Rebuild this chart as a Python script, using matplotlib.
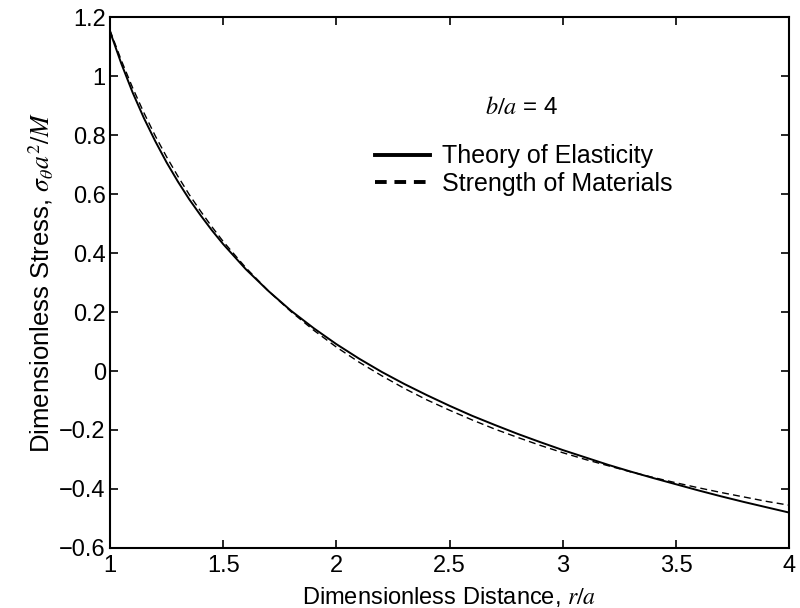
import numpy as np
import matplotlib
matplotlib.use('Agg')
import matplotlib.pyplot as plt
from matplotlib.lines import Line2D

plt.rcParams['font.family'] = ['Liberation Sans', 'DejaVu Sans']
plt.rcParams['mathtext.fontset'] = 'stix'

# r/a values
r_vals = [1.0, 1.05, 1.1, 1.15, 1.2, 1.25, 1.3, 1.35, 1.4, 1.45, 1.5, 1.6, 1.7,
          1.8, 1.9, 2.0, 2.1, 2.2, 2.3, 2.4, 2.5, 2.6, 2.7, 2.8, 2.9, 3.0,
          3.1, 3.2, 3.3, 3.4, 3.5, 3.6, 3.7, 3.8, 3.9, 4.0]
# theory of elasticity (solid)
elasticity = [1.151, 1.042, 0.944, 0.857, 0.779, 0.707, 0.642, 0.582, 0.528,
              0.477, 0.430, 0.345, 0.271, 0.204, 0.145, 0.091, 0.042, -0.003,
              -0.044, -0.082, -0.118, -0.152, -0.183, -0.213, -0.241, -0.268,
              -0.293, -0.318, -0.341, -0.363, -0.384, -0.405, -0.425, -0.444,
              -0.462, -0.480]
# strength of materials (dashed)
strength = [1.155, 1.053, 0.960, 0.875, 0.797, 0.726, 0.660, 0.598, 0.542,
            0.489, 0.439, 0.350, 0.271, 0.201, 0.138, 0.081, 0.030, -0.016,
            -0.059, -0.098, -0.133, -0.166, -0.197, -0.225, -0.252, -0.277,
            -0.300, -0.321, -0.342, -0.361, -0.379, -0.396, -0.412, -0.427,
            -0.442, -0.455]

x_ticks = [1, 1.5, 2, 2.5, 3, 3.5, 4]
x_ticklabels = ['1', '1.5', '2', '2.5', '3', '3.5', '4']
y_ticks = [-0.6, -0.4, -0.2, 0, 0.2, 0.4, 0.6, 0.8, 1, 1.2]
y_ticklabels = ['\u22120.6', '\u22120.4', '\u22120.2', '0', '0.2', '0.4', '0.6', '0.8', '1', '1.2']

fig = plt.figure(figsize=(8, 6.08), dpi=100)
ax = fig.add_axes([0.1375, 0.0987, 0.849, 0.8733])

ax.plot(r_vals, elasticity, color='black', lw=1.4, solid_joinstyle='round')
ax.plot(r_vals, strength, color='black', lw=1.0, dashes=(5, 3))

ax.set_xlim(1, 4)
ax.set_ylim(-0.6, 1.2)
ax.set_xticks(x_ticks)
ax.set_xticklabels(x_ticklabels)
ax.set_yticks(y_ticks)
ax.set_yticklabels(y_ticklabels)
ax.tick_params(direction='in', length=6, width=1.2, labelsize=17,
               top=True, right=True, pad=3)
ax.tick_params(axis='x', pad=5)
for s in ax.spines.values():
    s.set_linewidth(1.5)

ax.set_xlabel('Dimensionless Distance, $r/a$', fontsize=17, labelpad=6)
ax.set_ylabel(r'Dimensionless Stress, $\sigma_\theta a^2/M$', fontsize=18.5, labelpad=3)

ax.text(2.82, 0.89, '$b/a$ = 4', fontsize=17.5, ha='center', va='center')

handles = [Line2D([], [], color='black', lw=2.8),
           Line2D([], [], color='black', lw=2.8, dashes=(3, 2))]
ax.legend(handles, ['Theory of Elasticity', 'Strength of Materials'],
          loc='upper left', bbox_to_anchor=(0.39, 0.76), frameon=False,
          fontsize=18, handlelength=2.2, handletextpad=0.5, labelspacing=0.15,
          borderaxespad=0, borderpad=0)

fig.savefig('out.png', dpi=100)
